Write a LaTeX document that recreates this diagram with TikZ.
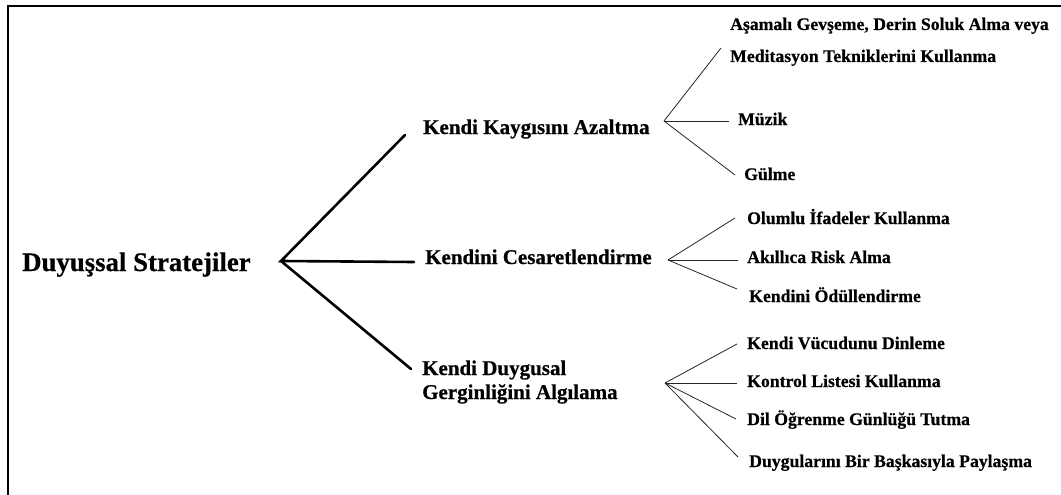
\documentclass[tikz,border=0pt]{standalone}
\usepackage{fontspec}
\setmainfont{Liberation Serif}[BoldFeatures={FakeBold=0.6}]
\begin{document}
\begin{tikzpicture}[x=1pt,y=-1pt,
  rootlbl/.style={anchor=base west,inner sep=0pt,font=\fontsize{26.8}{30}\selectfont\bfseries},
  midlbl/.style={anchor=base west,inner sep=0pt,font=\fontsize{21}{24}\selectfont\bfseries},
  leaflbl/.style={anchor=base west,inner sep=0pt,font=\fontsize{17.7}{20}\selectfont\bfseries},
  thick line/.style={line width=2.6pt,line cap=round},
  thin line/.style={line width=0.8pt,draw=black!85}]
\useasboundingbox (0,0) rectangle (1061,495);
\draw[line width=1.5pt] (8,495) -- (8,6) -- (1061,6);
% root
\node[rootlbl] (root) at (22,271) {Duyuşsal Stratejiler};
\coordinate (j0) at (281,261);
\coordinate (e1) at (405,135);
\coordinate (e2) at (414,262);
\coordinate (e3) at (411,369);
\draw[thick line] (e1) -- (j0) -- (e2);
\draw[thick line] (j0) -- (e3);
% middle labels
\node[midlbl] (m1) at (423,134) {Kendi Kaygısını Azaltma};
\node[midlbl] (m2) at (425,264) {Kendini Cesaretlendirme};
\node[midlbl] (m3a) at (422,375) {Kendi Duygusal};
\node[midlbl] (m3b) at (422,399) {Gerginliğini Algılama};
% branch 1
\coordinate (j1) at (664,121);
\coordinate (a1) at (721,48);
\coordinate (a2) at (729,121);
\coordinate (a3) at (735,175);
\draw[thin line] (j1) -- (a1); \draw[thin line] (j1) -- (a2); \draw[thin line] (j1) -- (a3);
\node[leaflbl] (l1a) at (730,30) {Aşamalı Gevşeme, Derin Soluk Alma veya};
\node[leaflbl] (l1b) at (730,62) {Meditasyon Tekniklerini Kullanma};
\node[leaflbl] (l2) at (738,125) {Müzik};
\node[leaflbl] (l3) at (744,180) {Gülme};
% branch 2
\coordinate (j2) at (668,260);
\coordinate (b1) at (735,218);
\coordinate (b2) at (738,260);
\coordinate (b3) at (737,289);
\draw[thin line] (j2) -- (b1); \draw[thin line] (j2) -- (b2); \draw[thin line] (j2) -- (b3);
\node[leaflbl] (k1) at (747,224) {Olumlu İfadeler Kullanma};
\node[leaflbl] (k2) at (747,263) {Akıllıca Risk Alma};
\node[leaflbl] (k3) at (749,302) {Kendini Ödüllendirme};
% branch 3
\coordinate (j3) at (665,383);
\coordinate (c1) at (737,344);
\coordinate (c2) at (737,383);
\coordinate (c3) at (736,419);
\coordinate (c4) at (738,457);
\draw[thin line] (j3) -- (c1); \draw[thin line] (j3) -- (c2); \draw[thin line] (j3) -- (c3); \draw[thin line] (j3) -- (c4);
\node[leaflbl] (d1) at (747,349) {Kendi Vücudunu Dinleme};
\node[leaflbl] (d2) at (747,387) {Kontrol Listesi Kullanma};
\node[leaflbl] (d3) at (747,425) {Dil Öğrenme Günlüğü Tutma};
\node[leaflbl] (d4) at (749,467) {Duygularını Bir Başkasıyla Paylaşma};
\end{tikzpicture}
\end{document}
